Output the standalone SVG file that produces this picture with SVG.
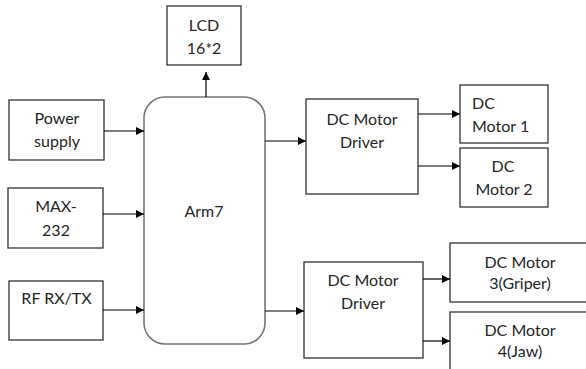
<svg xmlns="http://www.w3.org/2000/svg" width="586" height="369" viewBox="0 0 586 369">
<defs>
<marker id="ah" viewBox="0 0 10 10" refX="10" refY="5" markerWidth="8" markerHeight="8" markerUnits="userSpaceOnUse" orient="auto">
<path d="M0,0 L10,5 L0,10 Z" fill="#000"/>
</marker>
</defs>
<style>
.box{fill:#fff;stroke:#333;stroke-width:1.3}
.mcu{fill:#fff;stroke:#777;stroke-width:1.6}
.t{font-family:Lato,"Open Sans",sans-serif;font-size:16px;fill:#262626;text-anchor:middle}
.tl{text-anchor:start}
.c{stroke:#000;stroke-width:1.2;fill:none;marker-end:url(#ah)}
</style>
<rect width="586" height="369" fill="#fff"/>
<g id="lcd"><rect class="box" x="167" y="6" width="74" height="59"/><text class="t" x="204" y="31">LCD</text><text class="t" x="204" y="54">16*2</text></g>
<g id="power"><rect class="box" x="9" y="100" width="95" height="60"/><text class="t" x="57" y="124">Power</text><text class="t" x="57" y="147">supply</text></g>
<g id="max232"><rect class="box" x="8" y="188" width="95" height="60"/><text class="t" x="56" y="212">MAX-</text><text class="t" x="56" y="236">232</text></g>
<g id="rf"><rect class="box" x="9" y="281" width="94" height="59"/><text class="t" x="56.5" y="304">RF RX/TX</text></g>
<g id="arm7"><rect class="mcu" x="144" y="97" width="121" height="247" rx="21" ry="21"/><text class="t" x="204" y="217">Arm7</text></g>
<g id="driver1"><rect class="box" x="306" y="99" width="112" height="95"/><text class="t" x="362" y="125">DC Motor</text><text class="t" x="362" y="148">Driver</text></g>
<g id="motor1"><rect class="box" x="460" y="85" width="88" height="58"/><text class="t tl" x="472" y="109">DC</text><text class="t tl" x="472" y="132">Motor 1</text></g>
<g id="motor2"><rect class="box" x="460" y="148" width="88" height="59"/><text class="t" x="503" y="172">DC</text><text class="t" x="504" y="195">Motor 2</text></g>
<g id="driver2"><rect class="box" x="304" y="262" width="119" height="96"/><text class="t" x="363" y="286">DC Motor</text><text class="t" x="363" y="309">Driver</text></g>
<g id="motor3"><rect class="box" x="450" y="243" width="150" height="59"/><text class="t" x="520" y="268">DC Motor</text><text class="t" x="520" y="289">3(Griper)</text></g>
<g id="motor4"><rect class="box" x="450" y="312" width="150" height="70"/><text class="t" x="520" y="336">DC Motor</text><text class="t" x="520" y="357">4(Jaw)</text></g>
<g id="connectors">
<line class="c" x1="206" y1="97" x2="206" y2="72"/>
<line class="c" x1="104" y1="131" x2="144" y2="131"/>
<line class="c" x1="103" y1="214" x2="144" y2="214"/>
<line class="c" x1="103" y1="310" x2="144" y2="310"/>
<line class="c" x1="265" y1="141" x2="306" y2="141"/>
<line class="c" x1="265" y1="311" x2="304" y2="311"/>
<line class="c" x1="418" y1="114" x2="460" y2="114"/>
<line class="c" x1="418" y1="166" x2="460" y2="166"/>
<line class="c" x1="423" y1="279" x2="450" y2="279"/>
<line class="c" x1="423" y1="341" x2="450" y2="341"/>
</g>
</svg>
